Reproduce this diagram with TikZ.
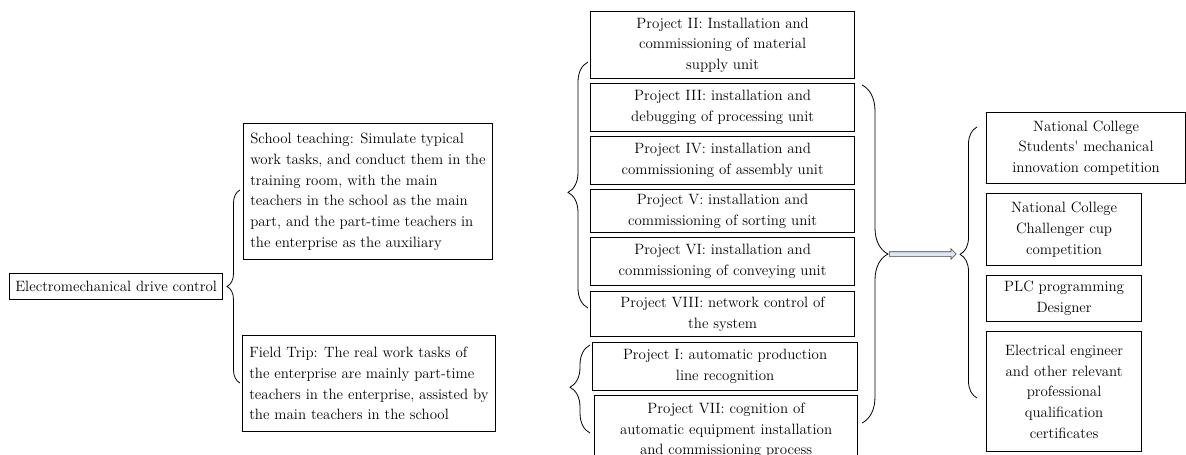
\documentclass[tikz,border=0pt]{standalone}
\usetikzlibrary{decorations.pathreplacing,shapes.arrows}
\definecolor{arrowblue}{RGB}{220,230,242}
\begin{document}
\begin{tikzpicture}[x=0.75pt,y=-0.75pt,
  box/.style={draw,line width=0.9pt,anchor=north west,inner sep=1pt,align=center,
    font=\fontsize{11.2}{15.5}\selectfont},
  wbox/.style={box,align=left,inner xsep=5pt},
  brc/.style={decorate,line width=0.6pt,decoration={brace,amplitude=#1}},
  brc/.default=10pt]
\useasboundingbox (0,0) rectangle (1186,454);
\clip (0,0) rectangle (1186,454);
\node[box,minimum width=159.75pt,minimum height=19.5pt] (main) at (9,273) {Electromechanical drive control};
\node[wbox,minimum width=186pt,minimum height=102pt] (school) at (243,123)
  {School teaching: Simulate typical\\work tasks, and conduct them in the\\training room, with the main\\teachers in the school as the main\\part, and the part-time teachers in\\the enterprise as the auxiliary};
\node[wbox,minimum width=188.25pt,minimum height=72pt] (field) at (242,335)
  {Field Trip: The real work tasks of\\the enterprise are mainly part-time\\teachers in the enterprise, assisted by\\the main teachers in the school};
\node[box,minimum width=198pt,minimum height=50.25pt] (p2) at (590,11) {Project II: Installation and\\commissioning of material\\supply unit};
\node[box,minimum width=198pt,minimum height=36pt] (p3) at (590,83) {Project III: installation and\\debugging of processing unit};
\node[box,minimum width=198pt,minimum height=36pt] (p4) at (590,136) {Project IV: installation and\\commissioning of assembly unit};
\node[box,minimum width=198pt,minimum height=32.25pt] (p5) at (590,189) {Project V: installation and\\commissioning of sorting unit};
\node[box,minimum width=198pt,minimum height=36pt] (p6) at (590,237) {Project VI: installation and\\commissioning of conveying unit};
\node[box,minimum width=198pt,minimum height=33.75pt] (p8) at (590,291) {Project VIII: network control of\\the system};
\node[box,minimum width=198.75pt,minimum height=36pt] (p1) at (592,342) {Project I: automatic production\\line recognition};
\node[box,minimum width=197.25pt,minimum height=52.5pt] (p7) at (594,395) {Project VII: cognition of\\automatic equipment installation\\and commissioning process};
\node[box,minimum width=149.25pt,minimum height=53.25pt] (c1) at (986,112) {National College\\Students\textquotesingle\ mechanical\\innovation competition};
\node[box,minimum width=116.25pt,minimum height=54pt] (c2) at (986,193) {National College\\Challenger cup\\competition};
\node[box,minimum width=116.25pt,minimum height=34.5pt] (c3) at (986,275) {PLC programming\\Designer};
\node[box,minimum width=116.25pt,minimum height=90pt] (c4) at (986,331) {Electrical engineer\\and other relevant\\professional\\qualification\\certificates};
\draw[brc=9.75pt] (240,383) -- (240,190);
\draw[brc=15pt,decoration={aspect=0.47}] (588,308) -- (588,62);
\draw[brc=15pt,decoration={aspect=0.52}] (590,433) -- (590,345);
\draw[brc=19.5pt] (862,85) -- (862,423);
\draw[brc=12.75pt,decoration={aspect=0.53}] (977,398) -- (977,127);
\coordinate (tipA) at (889,254);
\coordinate (tipB) at (957,254);
\node[single arrow,draw=black!75,fill=arrowblue,inner sep=0pt,inner ysep=1.5pt,
  single arrow head extend=2.25pt,single arrow head indent=0pt,
  minimum height=50.25pt,anchor=tail] (arr) at (tipA) {};
\end{tikzpicture}
\end{document}
